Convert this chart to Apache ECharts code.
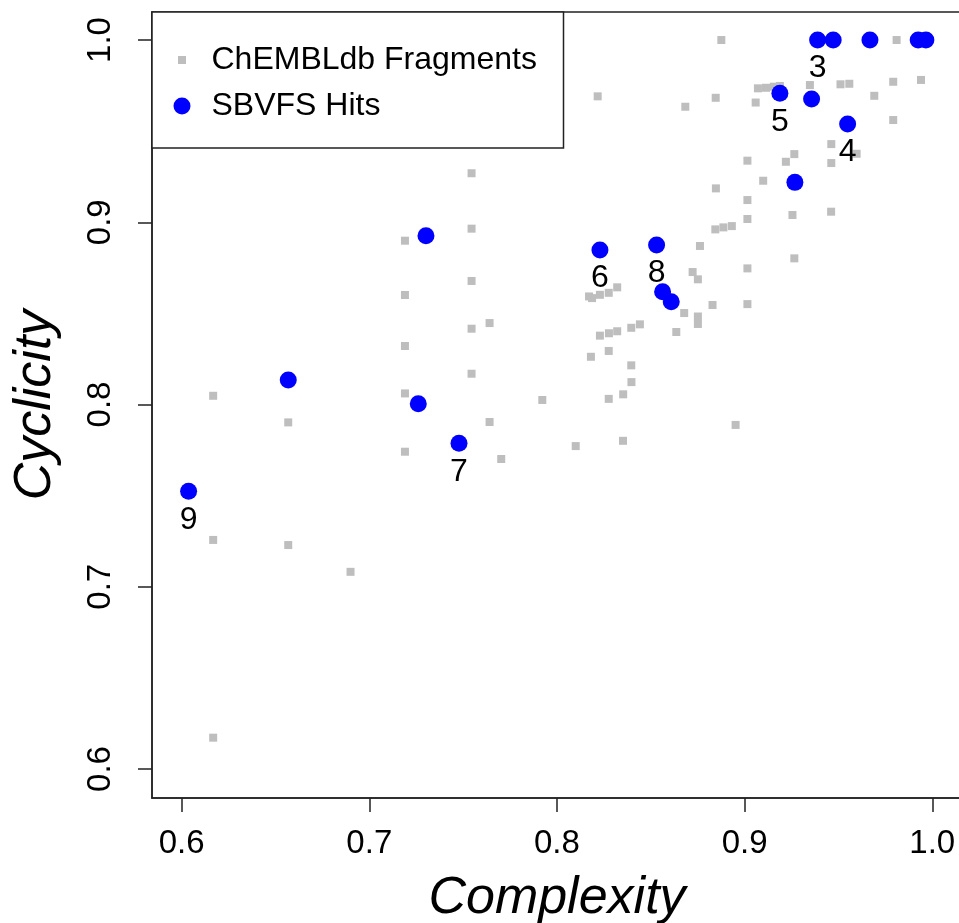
<!DOCTYPE html>
<html>
<head>
<meta charset="utf-8">
<script src="https://cdn.jsdelivr.net/npm/echarts@6/dist/echarts.min.js"></script>
<style>
html,body{margin:0;padding:0;background:#fff;}
#chart{width:959px;height:923px;}
</style>
</head>
<body>
<div id="chart"></div>
<script>
// ChEMBLdb Fragments (gray squares)
const fragX = [0.6168,0.6168,0.6168,0.6568,0.6568,0.6900,0.7190,0.7190,0.7190,0.7190,0.7190,
  0.7545,0.7545,0.7545,0.7545,0.7545,0.7641,0.7641,0.7703,0.7922,0.8100,
  0.8171,0.8187,0.8229,0.8276,0.8321,0.8181,0.8229,0.8276,0.8277,0.8321,0.8396,0.8442,
  0.8396,0.8397,0.8353,0.8276,0.8352,0.8217,0.8636,0.8678,0.8751,0.8751,0.8723,0.8751,
  0.8762,0.8829,0.8844,0.8887,0.8932,0.9015,0.9015,0.9015,0.9015,0.9255,0.9461,0.9265,
  0.8952,0.8847,0.9015,0.9099,0.9220,0.9265,0.9462,0.9462,0.9597,0.8684,0.8846,0.8876,
  0.9059,0.9071,0.9114,0.9156,0.9188,0.9348,0.9511,0.9558,0.9691,0.9792,0.9792,0.9940,0.9810];
const fragY = [0.8048,0.7257,0.6172,0.7902,0.7229,0.7082,0.8899,0.8601,0.8321,0.8061,0.7741,
  0.9269,0.8965,0.8678,0.8416,0.8169,0.8447,0.7904,0.7701,0.8025,0.7772,
  0.8593,0.8584,0.8602,0.8613,0.8643,0.8262,0.8378,0.8294,0.8391,0.8402,0.8421,0.8440,
  0.8215,0.8123,0.8056,0.8031,0.7801,0.9691,0.8398,0.8502,0.8483,0.8442,0.8727,0.8687,
  0.8870,0.8546,0.8961,0.8972,0.8979,0.9018,0.9122,0.8747,0.8551,0.9040,0.9058,0.8802,
  0.7888,0.9186,0.9338,0.9228,0.9332,0.9374,0.9429,0.9325,0.9376,0.9634,0.9683,1.0000,
  0.9657,0.9735,0.9738,0.9744,0.9748,0.9753,0.9757,0.9760,0.9694,0.9771,0.9561,0.9781,1.0000];

// SBVFS Hits (blue circles)
const hitX = [0.6037,0.6568,0.7261,0.7302,0.7478,0.8229,0.8531,0.8563,0.8609,
  0.9268,0.9188,0.9357,0.9549,0.9389,0.9472,0.9668,0.9925,0.9966];
const hitY = [0.7524,0.8134,0.8004,0.8926,0.7787,0.8848,0.8875,0.8619,0.8564,
  0.9219,0.9708,0.9676,0.9539,1.0000,1.0000,1.0000,1.0000,1.0000];
const hitLabels = ['9','','','','7','6','8','','','','5','','4','3','','','',''];

// Axes
const tickValues = [0.6, 0.7, 0.8, 0.9, 1.0];
const xTitle = 'Complexity';
const yTitle = 'Cyclicity';
const seriesNames = ['ChEMBLdb Fragments', 'SBVFS Hits'];

const FONT = '"Liberation Sans", Arial, Helvetica, sans-serif';
const chart = echarts.init(document.getElementById('chart'), null, {renderer: 'canvas'});

const fragData = fragX.map((x, i) => [x, fragY[i]]);
const hitData = hitX.map((x, i) => [x, hitY[i]]);

const axisCommon = {
  type: 'value',
  splitLine: {show: false},
  axisLine: {show: true, onZero: false, lineStyle: {color: '#222', width: 1.5}},
  axisTick: {show: true, inside: false, length: 14, customValues: tickValues, lineStyle: {color: '#222', width: 1.5}},
  nameLocation: 'middle',
  nameTextStyle: {fontFamily: FONT, fontStyle: 'italic', fontSize: 52, color: '#000'}
};

chart.setOption({
  animation: false,
  backgroundColor: '#fff',
  grid: {left: 152, top: 12, width: 810, height: 786, show: true, borderColor: '#222', borderWidth: 1.5,
    containLabel: false, outerBoundsMode: 'none'},
  legend: {
    orient: 'vertical',
    left: 152, top: 12,
    padding: [30, 12, 24, 21.5],
    itemWidth: 17, itemHeight: 17, itemGap: 10,
    borderColor: '#222', borderWidth: 1.5,
    backgroundColor: '#fff',
    textStyle: {fontFamily: FONT, fontSize: 32, color: '#000', lineHeight: 36, width: 340, padding: [0, 0, 0, 16]},
    data: [
      {name: seriesNames[0], icon: 'path://M0,0M17,17M4.5,4.5L12.5,4.5L12.5,12.5L4.5,12.5Z', itemStyle: {opacity: 1}},
      {name: seriesNames[1], icon: 'circle', itemStyle: {opacity: 1}}
    ]
  },
  xAxis: Object.assign({}, axisCommon, {
    min: 0.5842, max: 1.01585,
    name: xTitle, nameGap: 75,
    axisLabel: {customValues: tickValues, margin: 29, fontFamily: FONT, fontSize: 33, color: '#000', formatter: v => v.toFixed(1)}
  }),
  yAxis: Object.assign({}, axisCommon, {
    min: 0.5841, max: 1.01538,
    name: yTitle, nameGap: 90,
    axisLabel: {customValues: tickValues, margin: 35, rotate: 90, fontFamily: FONT, fontSize: 33, color: '#000', formatter: v => v.toFixed(1)}
  }),
  series: [
    {
      name: seriesNames[0], type: 'scatter', symbol: 'rect', symbolSize: 8,
      itemStyle: {color: '#BEBEBE', opacity: 1}, data: fragData, z: 2
    },
    {
      name: seriesNames[1], type: 'scatter', symbol: 'circle', symbolSize: 17,
      itemStyle: {color: '#0000FF', opacity: 1}, data: hitData, z: 3,
      label: {show: true, position: 'bottom', distance: 4, fontFamily: FONT, fontSize: 32, color: '#000', opacity: 1,
        formatter: p => hitLabels[p.dataIndex]}
    }
  ]
});
</script>
</body>
</html>
